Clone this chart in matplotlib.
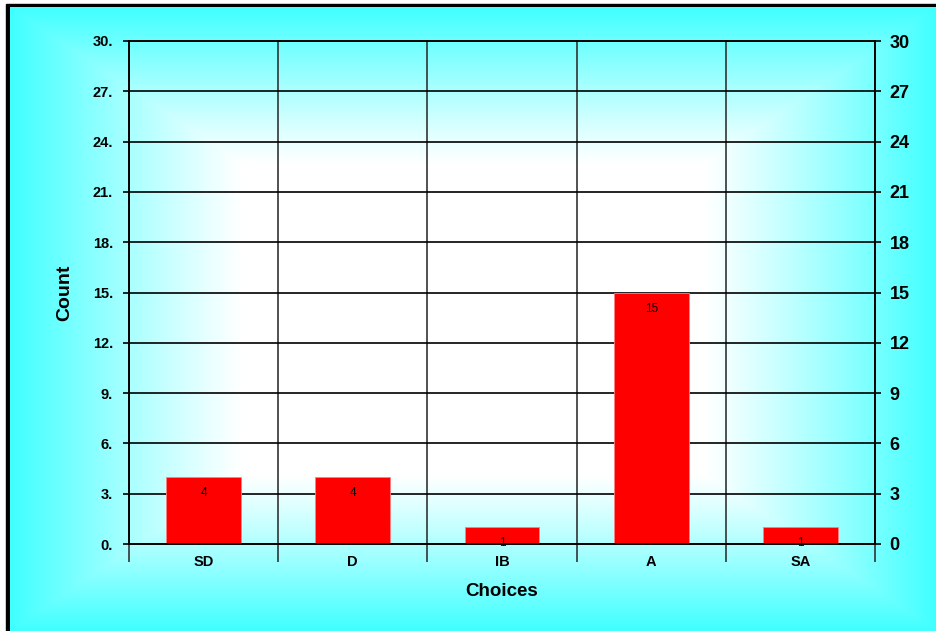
import numpy as np
import matplotlib.pyplot as plt
from matplotlib.ticker import FixedLocator

plt.rcParams['font.family'] = ['Liberation Sans', 'DejaVu Sans']

choices = ['SD', 'D', 'IB', 'A', 'SA']
counts = [4, 4, 1, 15, 1]
yticks = [0, 3, 6, 9, 12, 15, 18, 21, 24, 27, 30]
left_labels = ['0.', '3.', '6.', '9.', '12.', '15.', '18.', '21.', '24.', '27.', '30.']
right_labels = ['0', '3', '6', '9', '12', '15', '18', '21', '24', '27', '30']

W, H = 937, 631
fig = plt.figure(figsize=(W / 100, H / 100), dpi=100)

# background: black frame on left/top, white-to-cyan rectangular gradient from centre
bg = fig.add_axes([0, 0, 1, 1])
bg.axis('off')
bg.add_patch(plt.Rectangle((6, 4), W, H, color='black', zorder=1))
gx = np.linspace(-1, 1, 600)
gy = np.linspace(-1, 1, 400)
u, v = np.meshgrid(gx, gy)
m = np.maximum(np.abs(u), np.abs(v))
t = np.clip((m - 0.5) / 0.5, 0, 1) ** 1.1
cyan = np.array([64, 255, 255]) / 255
img = (1 - t[..., None]) * np.ones(3) + t[..., None] * cyan
bg.imshow(img, extent=(10, W, H, 7), aspect='auto', interpolation='bilinear', zorder=2)
bg.set_xlim(0, W)
bg.set_ylim(H, 0)

ax = fig.add_axes([129 / W, (H - 544) / H, (875 - 129) / W, (544 - 41) / H])
ax.set_facecolor('none')
x = np.arange(1, len(choices) + 1)
bars = ax.bar(x, counts, width=0.5, color='#ff0000', edgecolor='#ff8080', linewidth=0.6, zorder=3)
for xi, c in zip(x, counts):
    ax.annotate(str(c), (xi, c), xytext=(0, -16), textcoords='offset pixels',
                ha='center', va='center', fontsize=8.5, zorder=4)

ax.set_xlim(0.5, len(choices) + 0.5)
ax.set_ylim(0, 30)
ax.set_yticks(yticks)
ax.set_yticklabels(left_labels, fontsize=10.5, fontweight='bold')
ax.tick_params(axis='y', length=4.5, width=1.2, pad=7, color='black')
ax.set_xticks(x)
ax.set_xticklabels(choices, fontsize=10.5, fontweight='bold')
ax.xaxis.set_minor_locator(FixedLocator(np.arange(0.5, len(choices) + 1, 1)))
ax.tick_params(axis='x', which='major', length=0, pad=8)
ax.tick_params(axis='x', which='minor', length=13, width=1.2, color='#333333')
ax.grid(True, which='minor', axis='x', color='#333333', lw=1.2, zorder=1)
ax.grid(True, which='major', axis='y', color='black', lw=1.2, zorder=1)
for s in ax.spines.values():
    s.set_linewidth(1.2)

ax2 = ax.twinx()
ax2.set_ylim(0, 30)
ax2.set_yticks(yticks)
ax2.set_yticklabels(right_labels, fontsize=13, fontweight='bold')
ax2.tick_params(axis='y', length=4.5, width=1.2, pad=6)
for s in ax2.spines.values():
    s.set_linewidth(1.2)

ax.set_xlabel('Choices', fontsize=13.5, fontweight='bold', labelpad=10)
ax.set_ylabel('Count', fontsize=14, fontweight='bold', labelpad=14)

fig.savefig('out.png', dpi=100)
